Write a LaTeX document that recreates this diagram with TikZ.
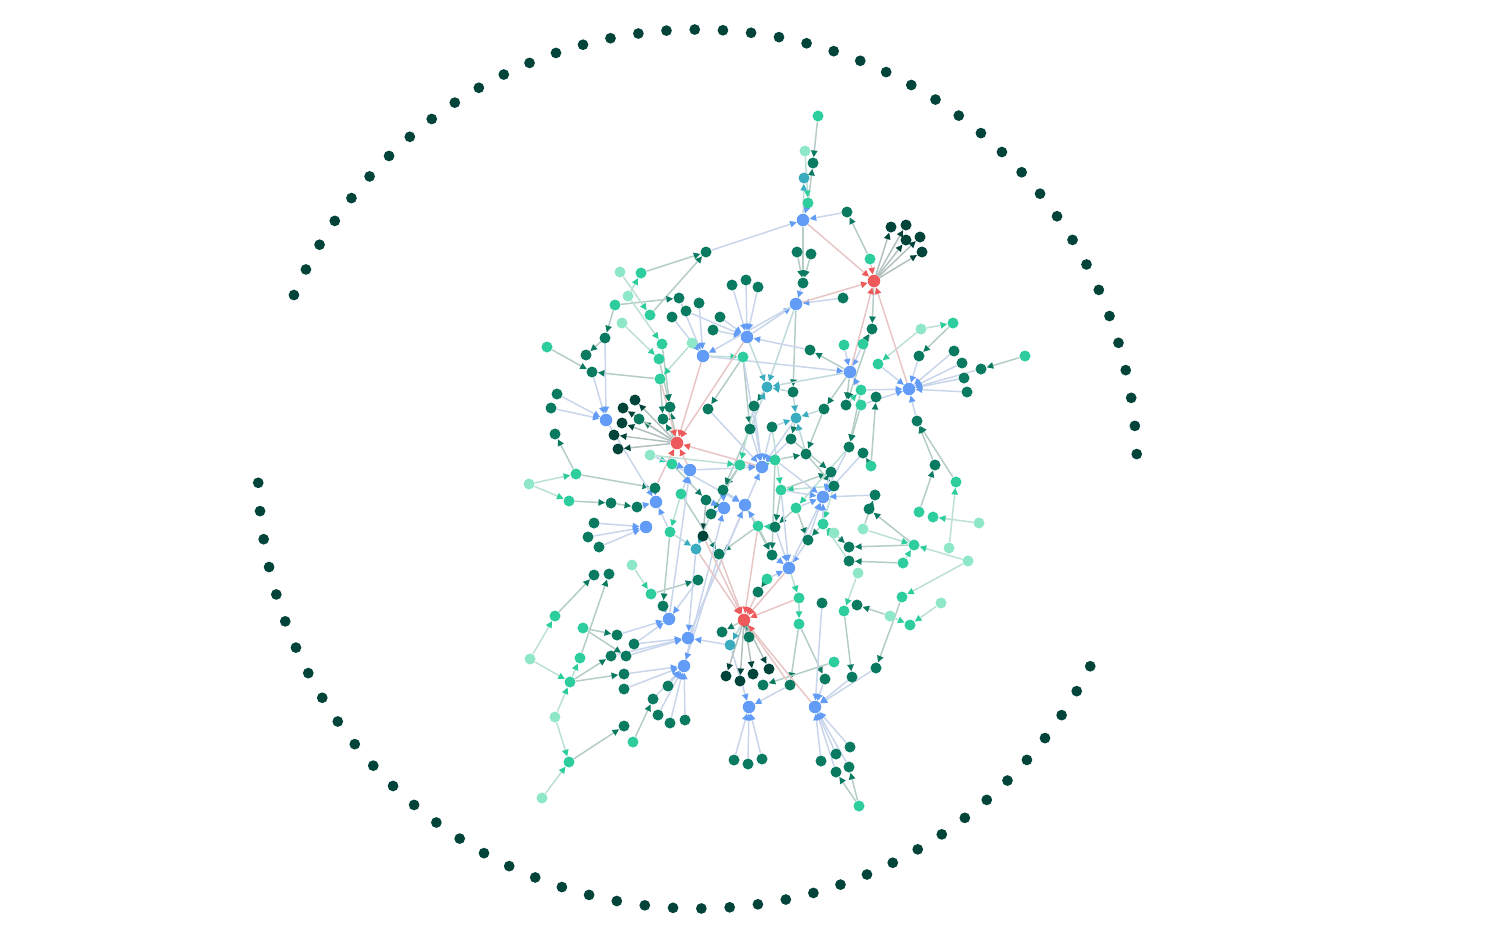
\documentclass[tikz,border=0pt]{standalone}
\usetikzlibrary{arrows.meta}
\pgfdeclarelayer{bg}
\pgfsetlayers{bg,main}
\definecolor{cV}{RGB}{2,68,58}
\definecolor{cD}{RGB}{10,122,96}
\definecolor{cM}{RGB}{46,205,158}
\definecolor{cL}{RGB}{142,232,200}
\definecolor{cB}{RGB}{98,156,246}
\definecolor{cR}{RGB}{238,90,92}
\definecolor{cT}{RGB}{58,172,192}
\tikzset{
 dotbase/.style={circle,inner sep=0pt,minimum size=0.22cm},
 kV/.style={dotbase,fill=cV},
 kD/.style={dotbase,fill=cD},
 kM/.style={dotbase,fill=cM},
 kL/.style={dotbase,fill=cL},
 kT/.style={dotbase,fill=cT},
 kB/.style={dotbase,minimum size=0.25cm,fill=cB},
 kR/.style={dotbase,minimum size=0.25cm,fill=cR},
 ring/.style={circle,inner sep=0pt,minimum size=0.215cm,fill=cV},
 e/.style={draw=#1!60!gray!38!white,line width=0.85pt,-{Triangle[length=3.8pt,width=3.6pt,color=#1]}}
}
\begin{document}
\begin{tikzpicture}[x=0.02cm,y=-0.02cm]
\useasboundingbox (0,0) rectangle (1500,938);
% outer ring of isolated nodes
\foreach \i in {0,...,42}
  \node[ring] (ra\i) at ({697.5+439.5*cos(1.95+3.684*\i)},{469-439.5*sin(1.95+3.684*\i)}) {};
\foreach \i in {0,...,41}
  \node[ring] (rb\i) at ({697.5+439.5*cos(181.8+3.696*\i)},{469-439.5*sin(181.8+3.696*\i)}) {};
% graph nodes
\foreach \n/\c/\x/\y in {
t1/M/818/116, t2/L/805/151, t3/D/813/163, t4/T/804/178, t5/M/808/203, t6/B/803/220,
t7/D/847/212, t8/D/706/252, t9/D/797/252, t10/D/811/254, t11/M/870/259, t12/R/874/281,
t13/V/891/227, t14/V/906/225, t15/V/906/240, t16/V/920/237, t17/V/922/252, t18/D/803/283,
t19/B/796/304, t20/D/843/298, t21/D/732/285, t22/D/746/280, t23/D/758/287, t24/B/747/337,
t25/D/720/317, t26/D/713/330, t27/D/699/303, t28/D/679/298, t29/D/686/311, t30/D/672/317,
t31/L/620/272, t32/M/641/273, t33/L/628/296, t34/M/615/305, t35/M/650/315, t36/L/622/323,
t37/D/605/338, t38/D/872/329, t39/L/921/329, t40/M/953/323,
m1/M/547/347, m2/D/586/355, m3/D/592/372, m4/M/662/344, m5/L/692/343, m6/M/659/359,
m7/M/660/379, m8/D/557/394, m9/D/551/408, m10/B/606/420, m11/V/635/400, m12/V/623/408,
m13/D/639/419, m14/V/622/423, m15/V/614/435, m16/V/618/449, m17/D/670/407, m18/D/663/419,
m19/D/555/434, m20/R/677/443, m21/L/650/455, m22/M/672/464, m23/B/690/470, m24/M/576/474,
m25/L/529/484, m26/D/655/488, m27/M/681/494, m28/M/569/501, m29/D/611/503, m30/D/637/507,
m31/B/656/502, m32/D/594/523, m33/D/588/537, m34/D/599/547, m35/B/646/527, m36/M/670/532,
m37/T/696/549, m38/L/632/565,
c1/B/703/356, c2/M/743/357, c3/D/810/350, c4/M/844/345, c5/M/863/344, c6/B/850/372,
c7/T/767/387, c8/D/793/392, c9/M/861/390, c10/D/754/406, c11/D/824/409, c12/D/846/405,
c13/M/861/405, c14/D/708/409, c15/T/796/418, c16/D/750/429, c17/D/772/427, c18/D/791/439,
c19/D/849/447, c20/D/863/453, c21/D/806/454, c22/B/762/467, c23/M/775/460, c24/M/740/465,
c25/D/831/472, c26/D/834/486, c27/D/723/490, c28/D/706/500, c29/M/781/490, c30/B/823/497,
c31/B/745/505, c32/B/724/508, c33/D/711/514, c34/M/796/508, c35/M/758/526, c36/D/775/527,
c37/M/823/524, c38/L/834/533, c39/L/863/529, c40/V/703/536, c41/D/719/554, c42/D/808/540,
c43/D/772/555, c44/D/849/547, c45/D/849/561, c46/B/789/568, c47/M/871/466, c48/D/875/495,
c49/D/869/509,
r1/D/954/351, r2/D/962/363, r3/D/964/378, r4/D/967/392, r5/D/981/369, r6/M/1025/356,
r7/D/919/356, r8/M/878/364, r9/B/909/389, r10/D/876/397, r11/D/917/421, r12/D/935/465,
r13/M/956/482, r14/M/919/512, r15/M/933/517, r16/L/979/523, r17/M/914/545, r18/L/949/548,
r19/L/968/561, r20/M/903/563, r21/L/858/573, r22/M/902/597, r23/L/941/603, r24/L/890/616,
r25/M/910/625, r26/D/857/605, r27/D/876/668, r28/M/844/611, r29/M/834/662, r30/D/852/677,
r31/D/825/679,
b1/D/594/575, b2/D/609/574, b3/D/698/580, b4/M/651/594, b5/D/663/606, b6/B/669/619,
b7/M/555/616, b8/M/583/628, b9/D/617/635, b10/D/634/644, b11/B/688/638, b12/D/611/656,
b13/D/626/656, b14/M/580/658, b15/L/530/659, b16/B/684/666, b17/D/624/674, b18/M/570/682,
b19/D/624/689, b20/D/668/686, b21/D/653/699, b22/L/555/717, b23/D/658/715, b24/D/670/723,
b25/D/685/720, b26/D/624/726, b27/M/633/742, b28/M/569/762, b29/L/542/798,
b31/M/767/579, b32/D/758/592, b33/M/799/598, b34/D/822/603, b35/R/744/620, b36/M/799/624,
b37/D/722/632, b38/D/749/637, b39/T/730/645, b40/V/769/669, b41/V/726/676, b42/V/740/681,
b43/V/753/674, b44/D/763/685, b45/D/790/685, b46/B/749/707, b47/B/815/707, b48/D/734/760,
b49/D/748/764, b50/D/762/759, b51/D/821/761, b52/D/836/754, b53/D/850/747, b54/D/849/767,
b55/D/836/772, b56/M/859/806}
  \node[k\c] (\n) at (\x,\y) {};
% connectors, grouped by the colour of their target
\begin{pgfonlayer}{bg}
\foreach \a/\b in {t1/t3, t5/t3, t6/t18, t11/t7, t9/t18, t10/t18, t12/t38, t32/t8, t35/t8,
 t34/t28, t34/t37, t37/m2, m1/m3, m7/m3, c6/c11, c6/c12, m24/m26, m28/m29, m29/m30, r6/r5,
 t40/r7, r12/r11, r13/r11, r14/r12, r17/c49, r17/c44, r20/c45, c47/r10, r24/r26, r22/r27,
 r28/r30, b36/b45, b36/r31, r29/b44, b31/b32, b35/b37, b35/b38, b56/b55, b56/b54, b8/b9,
 b8/b13, b18/b12, b18/b17, b4/b3, b28/b26, b7/b1, b14/b2, b27/b21, m20/m18, m20/m17,
 m20/m13, c7/c10, c23/c21, c15/c18, c24/c27, c29/c25, c37/c42, c35/c43, m22/c28, c34/c36,
 c47/c20, c13/c19, t38/c12, m4/m17, m7/m18, m24/m19, t19/c8, c6/c3, c5/t38, m36/b5, m6/m17,
 c2/c16, c23/c43, c29/c36, c35/c41, c34/c42, c21/c26, c18/c25, c16/c27, c24/c33, c38/c44,
 m27/c41, c31/c43, c2/c14, c39/c48, c11/c21, c9/c19}
  \draw[e=cD] (\a) -- (\b);
\foreach \a/\b in {t2/t5, t31/t35, t33/t32, t39/t40, t39/r8, c1/c2, m25/m24, m25/m28,
 r18/r13, r16/r15, r19/r17, c39/r17, r20/r17, r23/r25, r19/r22, r21/r28, b15/b7, b15/b18,
 b18/b14, m38/b4, b22/b28, b29/b28, t33/m4, t36/m6, m5/m7, m21/m22, c12/c9, c46/b33,
 b33/b36, r24/r25, c26/c29, c36/c35, m27/m36, c22/c23, c38/c37, b22/b18, m21/c24, c17/c29,
 c19/c34, c26/c37, c10/c24, c45/c37}
  \draw[e=cM] (\a) -- (\b);
\foreach \a/\b in {t5/t6, t7/t6, t8/t6, t18/t19, t20/t19, t24/t19, t21/t24, t22/t24, t23/t24,
 t25/t24, t26/t24, t29/t24, c3/t24, t27/c1, t28/c1, t30/c1, c1/c6, c4/c6, c5/c6, c9/c6,
 c10/c22, c16/c22, c17/c22, c18/c22, c14/c22, m23/c22, c24/c22, c25/c30, c26/c30, c19/c30,
 c20/c30, c29/c30, c37/c30, c42/c30, c48/c30, c27/c31, c35/c31, c33/c32, c28/c32,
 r1/r9, r2/r9, r3/r9, r4/r9, r7/r9, r5/r9, r11/r9, c9/r9, c13/r9, r8/r9,
 t37/m10, m8/m10, m9/m10, m3/m10, m10/m31, m30/m31, m26/m31, m32/m35, m33/m35, m34/m35,
 m27/m23, m22/m23, b48/b46, b49/b46, b50/b46, b39/b46, b45/b46, b51/b47, b52/b47, b53/b47,
 b54/b47, b55/b47, r30/b47, r31/b47, r27/b47, b34/b47, b9/b6, b10/b6, b5/b6, b3/b6,
 b13/b11, b10/b11, b17/b16, b19/b16, b20/b16, b21/b16, b23/b16, b24/b16, b25/b16,
 c42/c46, c43/c46, b11/c22, b6/m23, b16/c32, m37/b11, c41/b16, b39/b11, t19/c1, c46/c30,
 b12/b11, b11/c31, c2/c22, c36/c46, c29/c46, c34/c30, b31/c46, c15/c22, m22/c31, c27/c32,
 m21/m23, m36/m31, c23/c30}
  \draw[e=cB] (\a) -- (\b);
\foreach \a/\b in {t6/t12, t19/t12, t11/t12, c6/t12, r9/t12, c1/m20, c22/m20, m26/m20,
 m23/m20, m7/m20, t24/m20, b32/b35, c41/b35, b45/b35, b47/b35, m37/b35, c40/b35, b33/b35,
 c35/b35, c46/b35}
  \draw[e=cR] (\a) -- (\b);
\foreach \a/\b in {t12/t13, t12/t14, t12/t15, t12/t16, t12/t17, m20/m11, m20/m12, m20/m14,
 m20/m15, m20/m16, b35/b40, b35/b41, b35/b42, b35/b43, c28/c40}
  \draw[e=cV] (\a) -- (\b);
\foreach \a/\b in {t6/t4, t24/c7, c6/c7, c8/c7, t19/c7, c11/c15, c8/c15, c21/c15, c17/c15,
 m36/m37, c33/m37, b35/b39, c40/m37, c16/c7}
  \draw[e=cT] (\a) -- (\b);
\end{pgfonlayer}
\end{tikzpicture}
\end{document}
